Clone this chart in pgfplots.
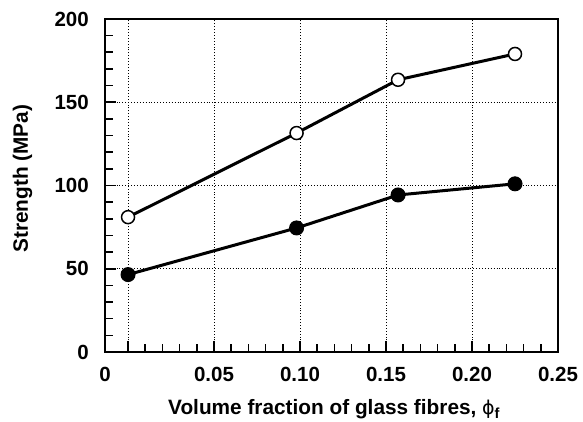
\documentclass[border=0pt]{standalone}
\usepackage{fontspec}
\setmainfont{Liberation Sans}
\newfontfamily\dejavu{DejaVu Sans}
\usepackage{pgfplots}
\pgfplotsset{compat=1.18}
\begin{document}
\begin{tikzpicture}
\path[use as bounding box] (-105pt,-70pt) rectangle (478pt,352pt);
\begin{axis}[
  at={(0pt,0pt)}, anchor=south west,
  scale only axis, width=453pt, height=333pt,
  xmin=-0.0134, xmax=0.25, ymin=0, ymax=200,
  xtick={0,0.05,0.10,0.15,0.20,0.25},
  xticklabels={,0.05,0.10,0.15,0.20,0.25},
  extra x ticks={-0.0134}, extra x tick labels={0},
  extra x tick style={major tick length=0pt, grid=none},
  ytick={0,50,100,150,200},
  minor x tick num=4, minor y tick num=4,
  tick align=inside, xtick pos=bottom, ytick pos=left,
  major tick length=11pt, minor tick length=7.5pt,
  every tick/.style={black, line width=1.6pt},
  axis line style={line width=2.4pt},
  grid=major,
  major grid style={black, line width=0.9pt, dotted},
  /pgf/number format/assume math mode=true,
  tick label style={font=\fontsize{20.5}{24}\selectfont\bfseries, inner sep=0pt},
  xticklabel style={anchor=north, yshift=-15pt},
  yticklabel style={anchor=east, xshift=-16pt},
  label style={font=\fontsize{20.8}{24}\selectfont\bfseries, inner sep=0pt},
  xlabel={Volume fraction of glass fibres, {\dejavu\mdseries\fontsize{19}{24}\selectfont ϕ}\textsubscript{f}},
  xlabel style={at={(axis description cs:0,0)}, anchor=base west, xshift=63pt, yshift=-63pt},
  ylabel={Strength (MPa)},
  ylabel style={at={(axis description cs:-0.170,0.52)}, anchor=base},
]
\addplot[black, line width=3pt, mark=*, mark size=6.5pt,
  mark options={fill=white, draw=black, line width=1.5pt}]
  coordinates {(0,81) (0.098,131.5) (0.157,163.5) (0.225,179)};
\addplot[black, line width=3pt, mark=*, mark size=7pt,
  mark options={fill=black, draw=black, line width=1pt}]
  coordinates {(0,46.5) (0.098,74.5) (0.157,94.3) (0.225,101)};
\end{axis}
\end{tikzpicture}
\end{document}
